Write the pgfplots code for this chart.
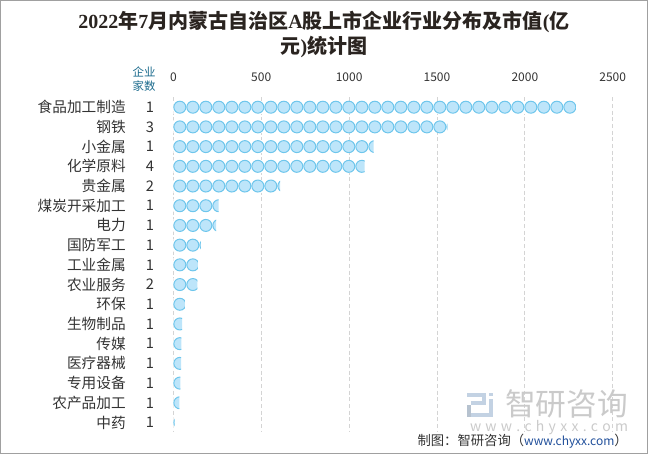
\documentclass[border=0pt]{standalone}
\usepackage{fontspec}
\setmainfont{Noto Sans CJK SC}
\newfontfamily\serifl{Liberation Serif}
\usepackage{pgfplots}
\pgfplotsset{compat=1.18}
\definecolor{circfill}{HTML}{BDE5FA}
\definecolor{circedge}{HTML}{6EC6EC}
\definecolor{txt}{HTML}{333333}
\definecolor{ttl}{HTML}{2A2420}
\definecolor{hdr}{HTML}{1A6A8C}
\definecolor{gridc}{HTML}{D4D4D4}
\definecolor{wm}{HTML}{CACACA}
\definecolor{logoc}{HTML}{C3D2E3}
\definecolor{urlc}{HTML}{1F4E9A}
\definecolor{framec}{HTML}{A0A0A0}
\newlength\bw \setlength\bw{9.75pt}
\tikzset{circbar/.style={xbar, bar shift=0pt, bar width=\bw, draw=none, fill=white, mark=none,
  path picture={\foreach \i in {0,...,34}{\path[path picture={}, fill=circfill, draw=circedge, line width=0.75pt]
     ([xshift={(\i+0.5)*\bw}]path picture bounding box.west) circle[radius={0.5*\bw-0.375pt}];}}}}
\begin{document}
\begin{tikzpicture}
\draw[framec, line width=0.75pt] (0.375pt,-0.375pt) rectangle (485.625pt,-340.125pt);
\node[font=\fontsize{15}{17}\selectfont\bfseries, text=ttl] at (243pt,-16.5pt)
  {{\serifl 2022}年{\serifl 7}月内蒙古自治区{\serifl A}股上市企业行业分布及市值{\serifl (}亿};
\node[font=\fontsize{15}{17}\selectfont\bfseries, text=ttl] at (243pt,-35.25pt)
  {元{\serifl )}统计图};
\node[text=hdr, font=\fontsize{8.6}{10.5}\selectfont, align=center, inner sep=0pt] at (108pt,-59.25pt) {企业\\家数};
\begin{axis}[at={(130pt,-73pt)}, anchor=north west, scale only axis,
  width=329.55pt, height=251.25pt,
  xmin=0, xmax=2500, ymin=-0.5, ymax=16.5, y dir=reverse,
  xtick={0,500,...,2500}, xticklabel pos=upper, xmajorgrids,
  major grid style={gridc, dash pattern=on 3pt off 2pt, line width=0.6pt},
  ytick={0,...,16},
  yticklabels={食品加工制造,钢铁,小金属,化学原料,贵金属,煤炭开采加工,电力,国防军工,工业金属,农业服务,环保,生物制品,传媒,医疗器械,专用设备,农产品加工,中药},
  extra y ticks={0,...,16},
  extra y tick labels={1,3,1,4,2,1,1,1,1,2,1,1,1,1,1,1,1},
  extra y tick style={yticklabel style={anchor=center, xshift=18pt}},
  axis line style={draw=none}, major tick length=0pt,
  tick label style={text=txt},
  yticklabel style={font=\fontsize{11}{13}\selectfont, anchor=east, inner sep=0pt, xshift=-35.5pt},
  xticklabel style={font=\fontsize{9}{11}\selectfont, anchor=center, inner sep=0pt, yshift=15.25pt},
  /pgf/number format/assume math mode=true, /pgf/number format/1000 sep={},
  scaled x ticks=false,
]
\addplot[circbar] coordinates {(2290,0)};
\addplot[circbar] coordinates {(1559,1)};
\addplot[circbar] coordinates {(1140,2)};
\addplot[circbar] coordinates {(1089,3)};
\addplot[circbar] coordinates {(607,4)};
\addplot[circbar] coordinates {(258,5)};
\addplot[circbar] coordinates {(243,6)};
\addplot[circbar] coordinates {(156,7)};
\addplot[circbar] coordinates {(140,8)};
\addplot[circbar] coordinates {(137,9)};
\addplot[circbar] coordinates {(65,10)};
\addplot[circbar] coordinates {(50,11)};
\addplot[circbar] coordinates {(46,12)};
\addplot[circbar] coordinates {(45,13)};
\addplot[circbar] coordinates {(40,14)};
\addplot[circbar] coordinates {(34,15)};
\addplot[circbar] coordinates {(8,16)};
\end{axis}
\begin{scope}[x=0.75pt, y=-0.75pt]
  \fill[logoc] (467,393) rectangle (486,397);
  \fill[logoc] (482,393) rectangle (486,405);
  \fill[logoc] (471,401) rectangle (486,405);
  \fill[logoc!80!gray] (467,405) rectangle (471,417);
  \fill[logoc] (471,413) rectangle (493,417);
  \fill[logoc] (489,393) rectangle (493,396);
  \fill[logoc] (489,399) rectangle (493,417);
  \node[font=\fontsize{23}{23}\selectfont, text=wm, inner sep=0pt] at (566.5,404) {智研咨询};
  \node[font=\fontsize{10.5}{12}\selectfont, text=wm, inner sep=0pt] at (549,428)
    {\makebox[118.5pt][s]{w\hfil w\hfil w\hfil .\hfil c\hfil h\hfil y\hfil x\hfil x\hfil .\hfil c\hfil o\hfil m}};
  \node[anchor=east, font=\fontsize{10}{12}\selectfont, text=txt, inner sep=0pt] at (628,441)
    {制图：智研咨询（{\color{urlc}\fontsize{9}{12}\selectfont www.chyxx.com}）};
\end{scope}
\end{tikzpicture}
\end{document}
